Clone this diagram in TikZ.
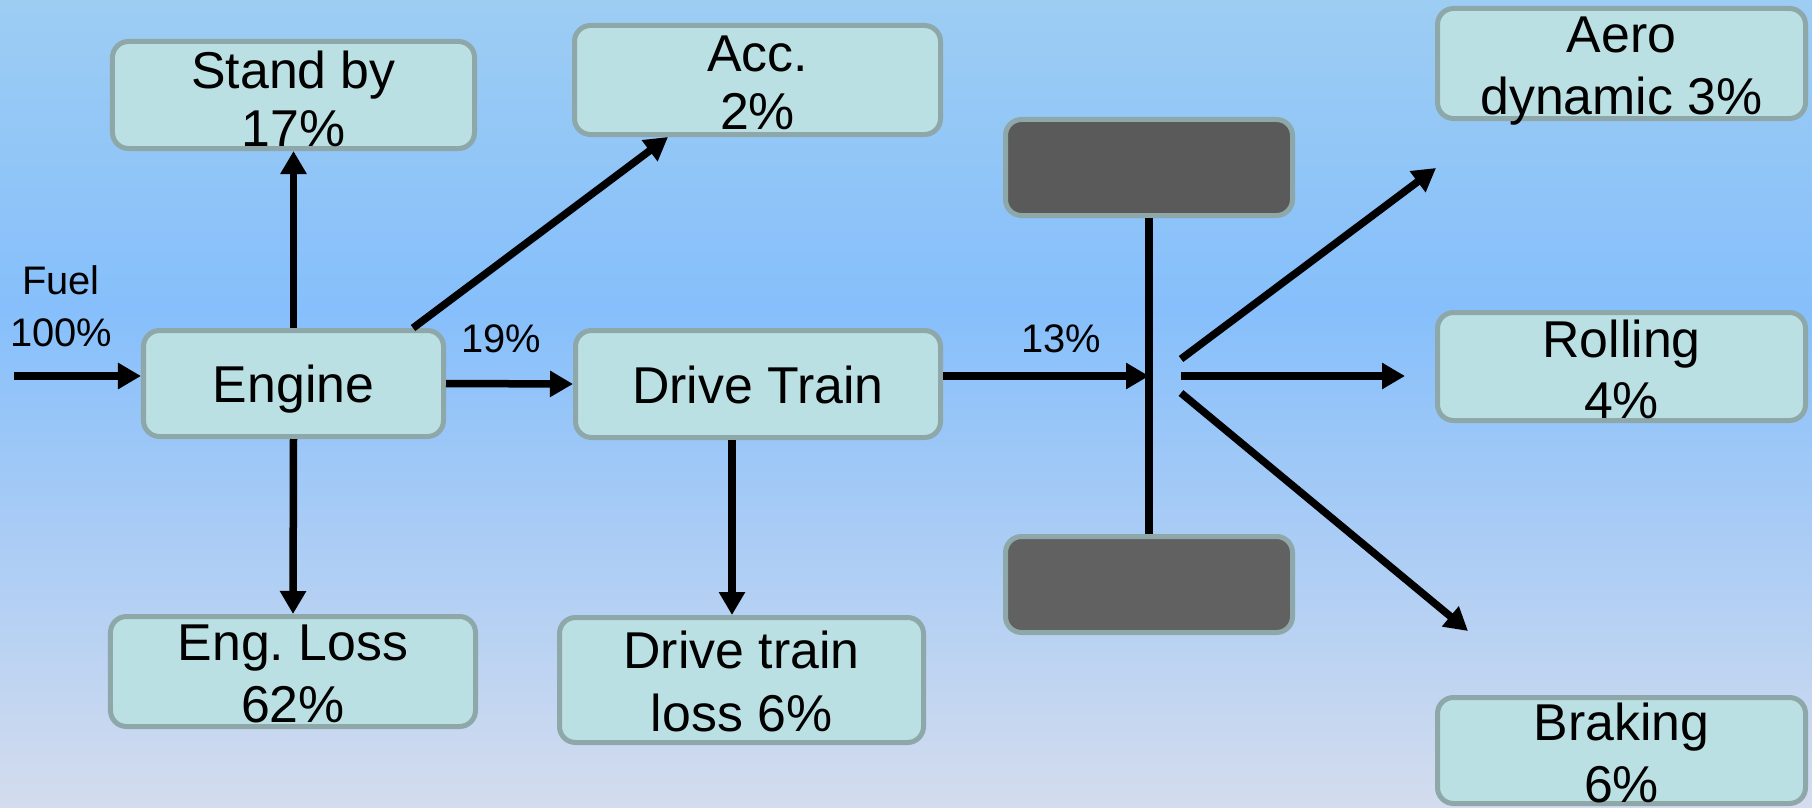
\documentclass[tikz,border=0pt]{standalone}
\usepackage{fontspec}
\setmainfont{Liberation Sans}
\usetikzlibrary{arrows.meta,calc}
\frenchspacing
\definecolor{bgtop}{HTML}{9DCDF3}
\definecolor{bgmid}{HTML}{86BFFB}
\definecolor{bgbot}{HTML}{D4DCEE}
\definecolor{boxfill}{HTML}{BBE0E3}
\definecolor{boxline}{HTML}{8EA7A8}
\definecolor{wheeltop}{HTML}{5A5A5A}
\definecolor{wheelbot}{HTML}{616161}
\pgfdeclareverticalshading{bgshade}{100bp}{color(0bp)=(bgbot); color(25bp)=(bgbot); color(56bp)=(bgmid); color(75bp)=(bgtop); color(100bp)=(bgtop)}
\begin{document}
\begin{tikzpicture}[x=1bp,y=-1bp,
  box/.style={draw=boxline, line width=5bp, fill=boxfill, rounded corners=16bp, inner sep=0pt},
  wheel/.style={box, fill=wheeltop},
  btext/.style={align=center, inner sep=0pt, anchor=north},
  ltext/.style={font=\fontsize{40}{52}\selectfont, align=center, inner sep=0pt, anchor=north},
  arr/.style={line width=7.5bp, -{Triangle[length=23bp,width=25bp]}},
  axle/.style={line width=7.5bp}]
\useasboundingbox (0,0) rectangle (1812,808);
\shade[shading=bgshade] (0,0) rectangle (1812,808);

% boxes
\node[box, minimum width=362bp, minimum height=107bp] (sb) at (293.5,95) {};
\node[box, minimum width=366bp, minimum height=109bp] (acc) at (757.5,80) {};
\node[box, minimum width=300bp, minimum height=106bp] (eng) at (293.5,383.5) {};
\node[box, minimum width=365bp, minimum height=107bp] (dt) at (758,384) {};
\node[box, minimum width=365bp, minimum height=110bp] (el) at (293,671.5) {};
\node[box, minimum width=364bp, minimum height=125bp] (dtl) at (741.5,680) {};
\node[wheel, minimum width=287bp, minimum height=96bp] (tw) at (1149,167.5) {};
\node[wheel, fill=wheelbot, minimum width=287bp, minimum height=96bp] (bw) at (1149,584.5) {};
\node[box, minimum width=368bp, minimum height=110bp] (aero) at (1621.5,63.5) {};
\node[box, minimum width=368bp, minimum height=108bp] (roll) at (1621.5,366.5) {};
\node[box, minimum width=368bp, minimum height=106bp] (brake) at (1621.5,750.5) {};

% box texts
\node[btext, font=\fontsize{52}{59}\selectfont] (sbt) at (293.5,46) {\rule{0pt}{42bp}Stand by\\17\%};
\node[btext, font=\fontsize{52}{59}\selectfont] (acct) at (757.5,29) {\rule{0pt}{42bp}Acc.\\2\%};
\node[btext, font=\fontsize{52}{59}\selectfont] (engt) at (293.5,360) {\rule{0pt}{42bp}Engine};
\node[btext, font=\fontsize{52}{59}\selectfont] (dtt) at (758,361) {\rule{0pt}{42bp}Drive Train};
\node[btext, font=\fontsize{52}{63}\selectfont] (elt) at (293,618) {\rule{0pt}{42bp}Eng.\ Loss\\62\%};
\node[btext, font=\fontsize{52}{64}\selectfont] (dtlt) at (741.5,626) {\rule{0pt}{42bp}Drive train\\loss 6\%};
\node[btext, font=\fontsize{52}{63}\selectfont] (aerot) at (1621.5,10) {\rule{0pt}{42bp}Aero\\dynamic 3\%};
\node[btext, font=\fontsize{52}{62}\selectfont] (rollt) at (1621.5,315) {\rule{0pt}{42bp}Rolling\\4\%};
\node[btext, font=\fontsize{52}{63}\selectfont] (braket) at (1621.5,698) {\rule{0pt}{42bp}Braking\\6\%};

% labels
\node[ltext] (fuelt) at (61,262) {\rule{0pt}{32bp}Fuel\\100\%};
\node[ltext] (l19) at (501,320) {\rule{0pt}{32bp}19\%};
\node[ltext] (l13) at (1061,320) {\rule{0pt}{32bp}13\%};

% coordinates
\coordinate (fuelin) at (14,376);
\coordinate (accx) at (413,0);
\coordinate (accy) at (668,0);
\coordinate (dtx) at (732,0);
\coordinate (hub) at (1149,376);
\coordinate (o1) at (1181,359);
\coordinate (o2) at (1181,376);
\coordinate (o3) at (1181,393);
\coordinate (e1) at (1436,168);
\coordinate (e2) at (1405,376);
\coordinate (e3) at (1468,631);

% connectors
\draw[arr] (fuelin) -- (eng.west |- fuelin);
\draw[arr] (eng.east) -- (dt.west);
\draw[arr] (eng.north) -- (sb.south);
\draw[arr] (eng.south) -- (el.north);
\draw[arr] (eng.north -| accx) -- (acc.south -| accy);
\draw[arr] (dt.south -| dtx) -- (dtl.north -| dtx);
\draw[arr] (dt.east |- hub) -- (hub);
\draw[axle] (tw.south) -- (bw.north);
\draw[arr] (o1) -- (e1);
\draw[arr] (o2) -- (e2);
\draw[arr] (o3) -- (e3);
\end{tikzpicture}
\end{document}
